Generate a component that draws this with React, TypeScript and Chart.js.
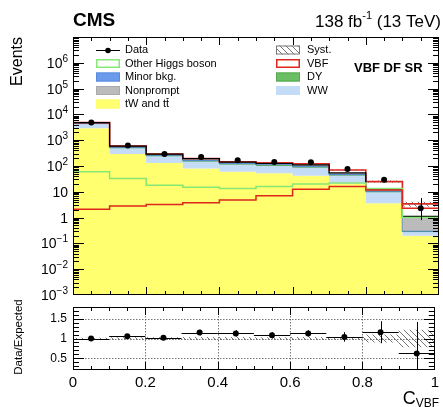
import React, { useEffect, useRef } from "react";
import { Chart, registerables } from "chart.js";
Chart.register(...registerables);

const FONT = '"Liberation Sans", Arial, Helvetica, sans-serif';
const YELLOW = "#ffff70";
const WW_C = "#c5dcf6";
const DY_C = "#6bbe63";
const MINOR_C = "#6b9ceb";
const NP_C = "#bbbbbb";
const OH_C = "#86e874";
const RED = "#e0261c";

// ---- data ----
const binEdges = [0, 0.1, 0.2, 0.3, 0.4, 0.5, 0.6, 0.7, 0.8, 0.9, 1.0];
const binCenters = [0.05, 0.15, 0.25, 0.35, 0.45, 0.55, 0.65, 0.75, 0.85, 0.95];

const dataCounts = [4800, 620, 295, 225, 166, 143, 139, 76, 29, 2.3];
const dataErrDown = [70, 25, 17, 15, 13, 12, 12, 9, 5.4, 1.5];
const dataErrUp = [70, 25, 17, 15, 13, 12, 12, 9, 5.4, 3.4];

const tWtt = [2900, 290, 130, 80, 60, 52, 42, 21, 3.6, 0.2];
const wwBkg = [1400, 200, 110, 70, 55, 50, 45, 22, 6, 0.08];
const dyBkg = [150, 30, 15, 10, 8, 7, 6, 3, 0.7, 0.01];
const minorBkg = [150, 30, 15, 12, 9, 8, 8, 3, 0.7, 0.02];
const nonpromptBkg = [200, 37, 17, 20, 10, 8, 9, 5, 2, 0.8];
const vbfSignal = [2.1, 2.8, 3.2, 3.8, 4.8, 7.0, 12.6, 16, 11.8, 2.3];
const otherHiggs = [60, 33, 18, 15, 13.5, 16, 20, 22, 13.5, 1.0];
const systRel = [0.02, 0.03, 0.03, 0.04, 0.04, 0.03, 0.04, 0.04, 0.1, 0.22];

const ratioValues = [1.0, 1.06, 1.02, 1.15, 1.13, 1.08, 1.13, 1.04, 1.16, 0.62];
const ratioErr = [0.015, 0.04, 0.06, 0.07, 0.08, 0.08, 0.08, 0.12, 0.28, 0.8];

const yTickValues = [1e-3, 1e-2, 1e-1, 1, 10, 1e2, 1e3, 1e4, 1e5, 1e6];
const yTickLabels: [string, string][] = [
  ["10", "\u22123"], ["10", "\u22122"], ["10", "\u22121"], ["1", ""], ["10", ""],
  ["10", "2"], ["10", "3"], ["10", "4"], ["10", "5"], ["10", "6"],
];
const xTickValues = [0, 0.2, 0.4, 0.6, 0.8, 1];
const xTickLabels = ["0", "0.2", "0.4", "0.6", "0.8", "1"];
const ratioTickValues = [0.5, 1, 1.5];
const ratioTickLabels = ["0.5", "1", "1.5"];

// ---- helpers ----
function stepPoints(vals: number[]) {
  const pts = vals.map((v, i) => ({ x: binEdges[i], y: v }));
  pts.push({ x: binEdges[vals.length], y: vals[vals.length - 1] });
  return pts;
}
function cumulative(layers: number[][]) {
  const out: number[][] = [];
  let run = layers[0].map(() => 0);
  for (const l of layers) {
    run = run.map((r, i) => r + l[i]);
    out.push(run);
  }
  return out;
}
function makeHatch(color: string) {
  const s = 6;
  const c = document.createElement("canvas");
  c.width = s; c.height = s;
  const g = c.getContext("2d")!;
  g.strokeStyle = color; g.lineWidth = 0.9;
  g.beginPath();
  for (let k = -1; k <= 1; k++) {
    g.moveTo(k * s, 0); g.lineTo(k * s + s, s);
  }
  g.stroke();
  return g.createPattern(c, "repeat");
}
const xMinorTicks: number[] = [];
for (let k = 1; k < 20; k++) if (k % 4 !== 0) xMinorTicks.push(k * 0.05);
const yLogMinor: number[] = [];
for (let d = -3; d < 7; d++) for (let m = 2; m <= 9; m++) yLogMinor.push(m * Math.pow(10, d));
const yLogMajor = [1e-3, 1e-2, 1e-1, 1, 10, 1e2, 1e3, 1e4, 1e5, 1e6, 1e7];
const ratioMinor: number[] = [];
for (let k = 3; k <= 17; k++) if (k % 5 !== 0) ratioMinor.push(k / 10);

function drawFrameTicks(chart: any, yMaj: number[], yMin: number[], L: any) {
  const { ctx, chartArea: a } = chart;
  const xs = chart.scales.x, ys = chart.scales.y;
  ctx.save();
  ctx.beginPath();
  ctx.rect(a.left, a.top, a.right - a.left, a.bottom - a.top);
  ctx.clip();
  ctx.strokeStyle = "#000"; ctx.lineWidth = 1;
  ctx.beginPath();
  const vx = (v: number, len: number) => {
    const p = Math.round(xs.getPixelForValue(v)) + 0.5;
    ctx.moveTo(p, a.bottom); ctx.lineTo(p, a.bottom - len);
    ctx.moveTo(p, a.top); ctx.lineTo(p, a.top + len);
  };
  const hy = (v: number, len: number) => {
    const p = Math.round(ys.getPixelForValue(v)) + 0.5;
    ctx.moveTo(a.left, p); ctx.lineTo(a.left + len, p);
    ctx.moveTo(a.right, p); ctx.lineTo(a.right - len, p);
  };
  xTickValues.forEach((v) => vx(v, L.xMaj));
  xMinorTicks.forEach((v) => vx(v, L.xMin));
  yMaj.forEach((v) => hy(v, L.yMaj));
  yMin.forEach((v) => hy(v, L.yMin));
  ctx.stroke();
  ctx.restore();
  ctx.save();
  ctx.strokeStyle = "#000"; ctx.lineWidth = 1;
  ctx.strokeRect(Math.round(a.left) + 0.5, Math.round(a.top) + 0.5,
    Math.round(a.right - a.left) - 1, Math.round(a.bottom - a.top) - 1);
  ctx.restore();
}

function upperConfig(): any {
  const [cTt, cWw, cDy, cMinor, cNp, cVbf] = cumulative([tWtt, wwBkg, dyBkg, minorBkg, nonpromptBkg, vbfSignal]);
  const systLo = cVbf.map((v, i) => v * (1 - systRel[i]));
  const systHi = cVbf.map((v, i) => v * (1 + systRel[i]));
  const pat = makeHatch("#666");
  const line = (vals: number[], extra: any) => ({
    type: "line", data: stepPoints(vals), stepped: true, pointRadius: 0, borderWidth: 0, ...extra,
  });
  const plugin = {
    id: "upperDeco",
    afterDatasetsDraw(chart: any) {
      const { ctx } = chart;
      const xs = chart.scales.x, ys = chart.scales.y;
      ctx.save();
      ctx.strokeStyle = "#000"; ctx.lineWidth = 1;
      ctx.beginPath();
      binCenters.forEach((c, i) => {
        const px = Math.round(xs.getPixelForValue(c)) + 0.5;
        ctx.moveTo(px, ys.getPixelForValue(dataCounts[i] - dataErrDown[i]));
        ctx.lineTo(px, ys.getPixelForValue(dataCounts[i] + dataErrUp[i]));
      });
      ctx.stroke();
      ctx.restore();
      drawFrameTicks(chart, yLogMajor, yLogMinor, { xMaj: 8, xMin: 4, yMaj: 11, yMin: 6 });
    },
    afterDraw(chart: any) {
      const { ctx } = chart;
      const ys = chart.scales.y;
      ctx.save();
      ctx.fillStyle = "#000";
      // y tick labels
      yTickValues.forEach((v, i) => {
        const y = ys.getPixelForValue(v);
        const [base, exp] = yTickLabels[i];
        ctx.font = `10px ${FONT}`;
        const we = exp ? ctx.measureText(exp).width : 0;
        const xr = 68;
        ctx.font = `14px ${FONT}`;
        ctx.textAlign = "right"; ctx.textBaseline = "alphabetic";
        ctx.fillText(base, xr - we, y + 5);
        if (exp) {
          ctx.font = `10px ${FONT}`; ctx.textAlign = "left";
          ctx.fillText(exp, xr - we, y - 1);
        }
      });
      // Events
      ctx.save();
      ctx.translate(18, 37);
      ctx.rotate(-Math.PI / 2);
      ctx.font = `16px ${FONT}`; ctx.textAlign = "right"; ctx.textBaseline = "middle";
      ctx.fillText("Events", 0, 0);
      ctx.restore();
      // CMS
      ctx.font = `bold 19px ${FONT}`; ctx.textAlign = "left"; ctx.textBaseline = "alphabetic";
      ctx.fillText("CMS", 73, 26);
      // lumi
      ctx.font = `17px ${FONT}`;
      const w1 = ctx.measureText("138 fb").width;
      const w3 = ctx.measureText(" (13 TeV)").width;
      ctx.font = `11px ${FONT}`;
      const w2 = ctx.measureText("-1").width;
      let lx = 441 - (w1 + w2 + w3);
      ctx.font = `17px ${FONT}`;
      ctx.fillText("138 fb", lx, 27);
      ctx.font = `11px ${FONT}`;
      ctx.fillText("-1", lx + w1, 19);
      ctx.font = `17px ${FONT}`;
      ctx.fillText(" (13 TeV)", lx + w1 + w2, 27);
      // VBF DF SR
      ctx.font = `bold 13px ${FONT}`; ctx.textBaseline = "middle";
      ctx.fillText("VBF DF SR", 354, 68);
      // legend
      const rows = [50, 63.5, 77, 90.5, 104];
      const box = (x: number, y: number, fill: any, stroke: string, lw: number) => {
        ctx.fillStyle = fill;
        ctx.fillRect(x, y - 4.5, 24, 9);
        ctx.strokeStyle = stroke; ctx.lineWidth = lw;
        ctx.strokeRect(x + lw / 2, y - 4.5 + lw / 2, 24 - lw, 9 - lw);
      };
      ctx.font = `11px ${FONT}`; ctx.textBaseline = "middle"; ctx.textAlign = "left";
      // Data
      ctx.strokeStyle = "#000"; ctx.lineWidth = 1;
      ctx.beginPath(); ctx.moveTo(96, rows[0] + 0.5); ctx.lineTo(120, rows[0] + 0.5); ctx.stroke();
      ctx.fillStyle = "#000";
      ctx.beginPath(); ctx.arc(108, rows[0] + 0.5, 2.8, 0, Math.PI * 2); ctx.fill();
      box(96, rows[1], "#fff", OH_C, 1.5);
      box(96, rows[2], MINOR_C, "#5a8ae0", 1);
      box(96, rows[3], NP_C, "#aaaaaa", 1);
      box(96, rows[4], YELLOW, YELLOW, 1);
      box(276, rows[0], pat, "#777", 1);
      box(276, rows[1], "#fff", RED, 1.5);
      box(276, rows[2], DY_C, "#55a84e", 1);
      box(276, rows[3], WW_C, WW_C, 1);
      ctx.fillStyle = "#000";
      ctx.fillText("Data", 125, rows[0]);
      ctx.fillText("Other Higgs boson", 125, rows[1]);
      ctx.fillText("Minor bkg.", 125, rows[2]);
      ctx.fillText("Nonprompt", 125, rows[3]);
      ctx.fillText("tW and tt", 125, rows[4]);
      const wA = ctx.measureText("tW and t").width;
      const wB = ctx.measureText("tW and tt").width;
      ctx.strokeStyle = "#000"; ctx.lineWidth = 0.8;
      ctx.beginPath(); ctx.moveTo(125 + wA + 0.3, rows[4] - 5.5); ctx.lineTo(125 + wB - 0.3, rows[4] - 5.5); ctx.stroke();
      ctx.fillText("Syst.", 307, rows[0]);
      ctx.fillText("VBF", 307, rows[1]);
      ctx.fillText("DY", 307, rows[2]);
      ctx.fillText("WW", 307, rows[3]);
      ctx.restore();
    },
  };
  return {
    type: "line",
    data: {
      datasets: [
        line(cTt, { backgroundColor: YELLOW, borderColor: YELLOW, fill: "start", order: 20 }),
        line(cWw, { backgroundColor: WW_C, borderColor: "#a9c7ec", borderWidth: 0.8, fill: "-1", order: 19 }),
        line(cDy, { backgroundColor: DY_C, borderColor: "#3f9a3f", borderWidth: 1, fill: "-1", order: 18 }),
        line(cMinor, { backgroundColor: MINOR_C, borderColor: "#3b6fd6", borderWidth: 1, fill: "-1", order: 17 }),
        line(cNp, { backgroundColor: NP_C, borderColor: "#888", borderWidth: 0.8, fill: "-1", order: 16 }),
        line(cVbf, { backgroundColor: "#ffffff", borderColor: RED, borderWidth: 1.6, fill: "-1", order: 15 }),
        line(systLo, { borderWidth: 0, fill: false, order: 14 }),
        line(systHi, { backgroundColor: pat, borderWidth: 0, fill: "-1", order: 13 }),
        line(cNp, { borderColor: "#000", borderWidth: 1.2, fill: false, order: 12 }),
        line(otherHiggs, { borderColor: OH_C, borderWidth: 1.5, fill: false, order: 3 }),
        line(vbfSignal, { borderColor: RED, borderWidth: 1.5, fill: false, order: 2 }),
        {
          type: "line",
          data: binCenters.map((x, i) => ({ x, y: dataCounts[i] })),
          showLine: false, pointRadius: 3, pointBackgroundColor: "#000", pointBorderColor: "#000",
          pointBorderWidth: 0, order: 1,
        },
      ],
    },
    options: {
      animation: false,
      responsive: true,
      maintainAspectRatio: false,
      events: [],
      layout: { padding: { top: 37, bottom: 10, left: 0, right: 4 } },
      plugins: { legend: { display: false }, tooltip: { enabled: false }, title: { display: false } },
      scales: {
        x: { type: "linear", min: 0, max: 1, display: false },
        y: {
          type: "logarithmic", min: 1e-3, max: 1e7,
          grid: { display: false, drawTicks: false }, border: { display: false },
          ticks: { display: false },
          afterFit(s: any) { s.width = 73; },
        },
      },
    },
    plugins: [plugin],
  };
}

function lowerConfig(): any {
  const pat = makeHatch("#666");
  const lo = systRel.map((s) => 1 - s);
  const hi = systRel.map((s) => 1 + s);
  const line = (vals: number[], extra: any) => ({
    type: "line", data: stepPoints(vals), stepped: true, pointRadius: 0, borderWidth: 0, ...extra,
  });
  const plugin = {
    id: "lowerDeco",
    beforeDatasetsDraw(chart: any) {
      const { ctx, chartArea: a } = chart;
      const xs = chart.scales.x, ys = chart.scales.y;
      ctx.save();
      ctx.strokeStyle = "#555"; ctx.lineWidth = 0.8; ctx.setLineDash([1.5, 1.5]);
      ctx.beginPath();
      [0.2, 0.4, 0.6, 0.8].forEach((v) => {
        const p = Math.round(xs.getPixelForValue(v)) + 0.5;
        ctx.moveTo(p, a.top); ctx.lineTo(p, a.bottom);
      });
      ratioTickValues.forEach((v) => {
        const p = Math.round(ys.getPixelForValue(v)) + 0.5;
        ctx.moveTo(a.left, p); ctx.lineTo(a.right, p);
      });
      ctx.stroke();
      ctx.restore();
    },
    afterDatasetsDraw(chart: any) {
      const { ctx, chartArea: a } = chart;
      const xs = chart.scales.x, ys = chart.scales.y;
      ctx.save();
      ctx.beginPath(); ctx.rect(a.left, a.top, a.right - a.left, a.bottom - a.top); ctx.clip();
      ctx.strokeStyle = "#000"; ctx.lineWidth = 1;
      ctx.beginPath();
      binCenters.forEach((c, i) => {
        const px = Math.round(xs.getPixelForValue(c)) + 0.5;
        const py = Math.round(ys.getPixelForValue(ratioValues[i])) + 0.5;
        ctx.moveTo(px, ys.getPixelForValue(ratioValues[i] - ratioErr[i]));
        ctx.lineTo(px, ys.getPixelForValue(ratioValues[i] + ratioErr[i]));
        ctx.moveTo(xs.getPixelForValue(binEdges[i]), py);
        ctx.lineTo(xs.getPixelForValue(binEdges[i + 1]), py);
      });
      ctx.stroke();
      ctx.restore();
      drawFrameTicks(chart, ratioTickValues, ratioMinor, { xMaj: 8, xMin: 4, yMaj: 11, yMin: 6 });
    },
    afterDraw(chart: any) {
      const { ctx } = chart;
      ctx.save();
      ctx.fillStyle = "#000";
      ctx.translate(19, 57);
      ctx.rotate(-Math.PI / 2);
      ctx.font = `11.5px ${FONT}`; ctx.textAlign = "center"; ctx.textBaseline = "middle";
      ctx.fillText("Data/Expected", 0, 0);
      ctx.restore();
      ctx.save();
      ctx.fillStyle = "#000";
      ctx.font = `12px ${FONT}`;
      const wv = ctx.measureText("VBF").width;
      ctx.textAlign = "left"; ctx.textBaseline = "alphabetic";
      ctx.fillText("VBF", 439 - wv, 126.5);
      ctx.font = `18px ${FONT}`; ctx.textAlign = "right";
      ctx.fillText("C", 439 - wv, 123.5);
      ctx.restore();
    },
  };
  return {
    type: "line",
    data: {
      datasets: [
        line(lo, { fill: false, order: 10 }),
        line(hi, { backgroundColor: pat, fill: "-1", order: 9 }),
        {
          type: "line",
          data: binCenters.map((x, i) => ({ x, y: ratioValues[i] })),
          showLine: false, pointRadius: 3, pointBackgroundColor: "#000", pointBorderColor: "#000",
          pointBorderWidth: 0, order: 1,
        },
      ],
    },
    options: {
      animation: false,
      responsive: true,
      maintainAspectRatio: false,
      events: [],
      layout: { padding: { top: 27, bottom: 0, left: 0, right: 4 } },
      plugins: { legend: { display: false }, tooltip: { enabled: false }, title: { display: false } },
      scales: {
        x: {
          type: "linear", min: 0, max: 1,
          grid: { display: false, drawTicks: false }, border: { display: false },
          afterBuildTicks(s: any) { s.ticks = xTickValues.map((v) => ({ value: v })); },
          ticks: {
            autoSkip: false, maxRotation: 0, padding: 4, color: "#000",
            font: { family: FONT, size: 15 },
            callback: (_v: any, i: number) => xTickLabels[i],
          },
          afterFit(s: any) { s.height = 37; },
        },
        y: {
          type: "linear", min: 0.2, max: 1.8,
          grid: { display: false, drawTicks: false }, border: { display: false },
          afterBuildTicks(s: any) { s.ticks = ratioTickValues.map((v) => ({ value: v })); },
          ticks: {
            autoSkip: false, padding: 6, color: "#000",
            font: { family: FONT, size: 12 },
            callback: (_v: any, i: number) => ratioTickLabels[i],
          },
          afterFit(s: any) { s.width = 73; },
        },
      },
    },
    plugins: [plugin],
  };
}

export default function App() {
  const topRef = useRef<HTMLCanvasElement>(null);
  const botRef = useRef<HTMLCanvasElement>(null);
  useEffect(() => {
    const c1 = new Chart(topRef.current!, upperConfig());
    const c2 = new Chart(botRef.current!, lowerConfig());
    return () => { c1.destroy(); c2.destroy(); };
  }, []);
  return (
    <div style={{ position: "fixed", left: 0, top: 0, width: 443, height: 407, background: "#fff" }}>
      <div style={{ position: "absolute", left: 0, top: 0, width: 443, height: 305 }}>
        <canvas ref={topRef} />
      </div>
      <div style={{ position: "absolute", left: 0, top: 280, width: 443, height: 127 }}>
        <canvas ref={botRef} />
      </div>
    </div>
  );
}
